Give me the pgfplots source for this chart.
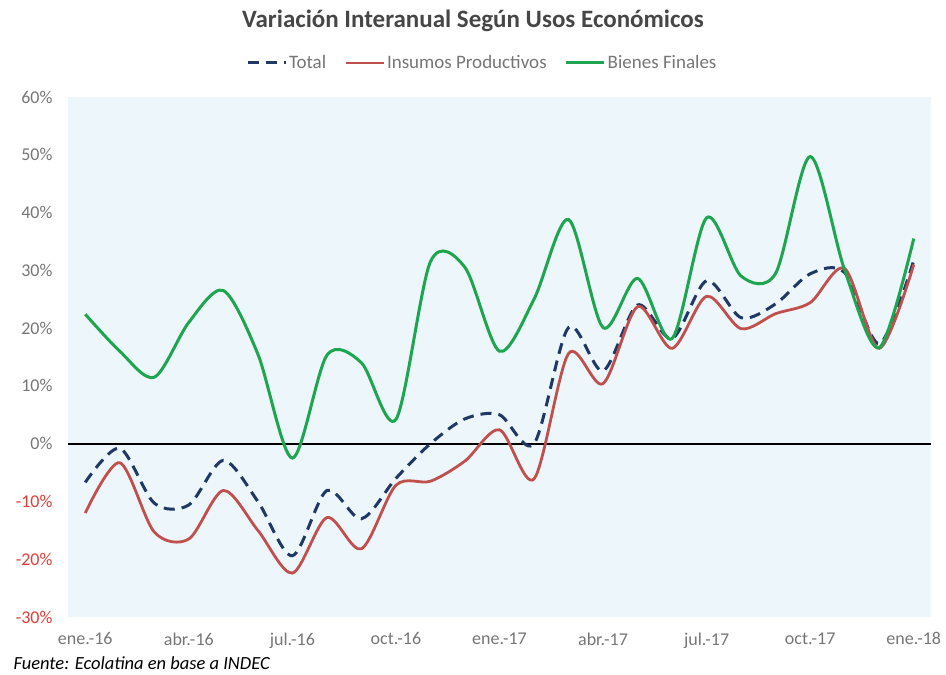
\documentclass[border=0pt]{standalone}
\usepackage{pgfplots}
\pgfplotsset{compat=1.18}
\usepackage{fontspec}
\setmainfont{Carlito}
\definecolor{bgblue}{RGB}{237,246,250}
\definecolor{cgreen}{RGB}{30,165,80}
\definecolor{cred}{RGB}{192,80,77}
\definecolor{cnavy}{RGB}{31,56,100}
\definecolor{cgray}{RGB}{118,118,118}
\definecolor{ctitle}{RGB}{70,70,70}
\definecolor{cneg}{RGB}{225,60,55}
\begin{document}
\begin{tikzpicture}
\useasboundingbox (0,0) rectangle (946pt,675pt);
\node[font=\fontsize{25}{27}\selectfont\bfseries, text=ctitle] at (473pt,654pt) {Variación Interanual Según Usos Económicos};
\node[font=\fontsize{18.5}{20}\selectfont\itshape, text=black, anchor=west] at (10pt,12pt) {Fuente: Ecolatina en base a INDEC};
\begin{axis}[
  at={(68pt,58pt)}, anchor=south west,
  scale only axis, width=863pt, height=520pt,
  xmin=-0.5, xmax=24.5, ymin=-30, ymax=60,
  axis line style={draw=none},
  axis background/.style={fill=bgblue},
  major tick length=0pt,
  xtick={0,3,6,9,12,15,18,21,24},
  xticklabels={ene.-16,abr.-16,jul.-16,oct.-16,ene.-17,abr.-17,jul.-17,oct.-17,ene.-18},
  ytick={-30,-20,-10,0,10,20,30,40,50,60},
  yticklabels={\textcolor{cneg}{-30\%},\textcolor{cneg}{-20\%},\textcolor{cneg}{-10\%},0\%,10\%,20\%,30\%,40\%,50\%,60\%},
  ticklabel style={font=\fontsize{18}{20}\selectfont, text=cgray},
  yticklabel style={xshift=-12pt},
  xticklabel style={yshift=-12pt},
  legend columns=3,
  legend style={at={(0.48,1)}, anchor=center, yshift=34pt, draw=none, fill=none,
    font=\fontsize{19}{21}\selectfont, text=cgray,
    /tikz/every even column/.append style={column sep=16pt}},
  legend image code/.code={\draw[#1] (0pt,0pt) -- (38pt,0pt);},
  clip=false,
]
\draw[black, line width=1.8pt] (axis cs:-0.5,0) -- (axis cs:24.5,0);
\addplot[cnavy, line width=3pt, dash pattern=on 11pt off 7pt, smooth] coordinates {
(0,-6.7)(1,-0.8)(2,-10.3)(3,-10.6)(4,-2.9)(5,-10)(6,-19.4)(7,-8.1)(8,-13)(9,-6)(10,0)(11,4.3)(12,5)(13,0)(14,20.1)(15,12.6)(16,24)(17,18.2)(18,28.2)(19,21.8)(20,24.2)(21,29.4)(22,29.6)(23,17.3)(24,31.7)};
\addlegendentry{Total}
\addplot[cred, line width=2.8pt, smooth] coordinates {
(0,-12)(1,-3.3)(2,-15.3)(3,-16.5)(4,-8.1)(5,-15)(6,-22.4)(7,-12.8)(8,-18.2)(9,-7.2)(10,-6.5)(11,-3)(12,2.4)(13,-6.1)(14,15.6)(15,10.4)(16,23.7)(17,16.5)(18,25.5)(19,19.9)(20,22.5)(21,24.4)(22,30.3)(23,16.5)(24,31)};
\addlegendentry{Insumos Productivos}
\addplot[cgreen, line width=3pt, smooth] coordinates {
(0,22.4)(1,16)(2,11.5)(3,21)(4,26.5)(5,15.5)(6,-2.5)(7,15.3)(8,14)(9,4.2)(10,31.5)(11,30.5)(12,16)(13,25)(14,38.8)(15,20.1)(16,28.6)(17,18.2)(18,39.1)(19,29)(20,29.5)(21,49.7)(22,30)(23,16.6)(24,35.5)};
\addlegendentry{Bienes Finales}
\end{axis}
\end{tikzpicture}
\end{document}
